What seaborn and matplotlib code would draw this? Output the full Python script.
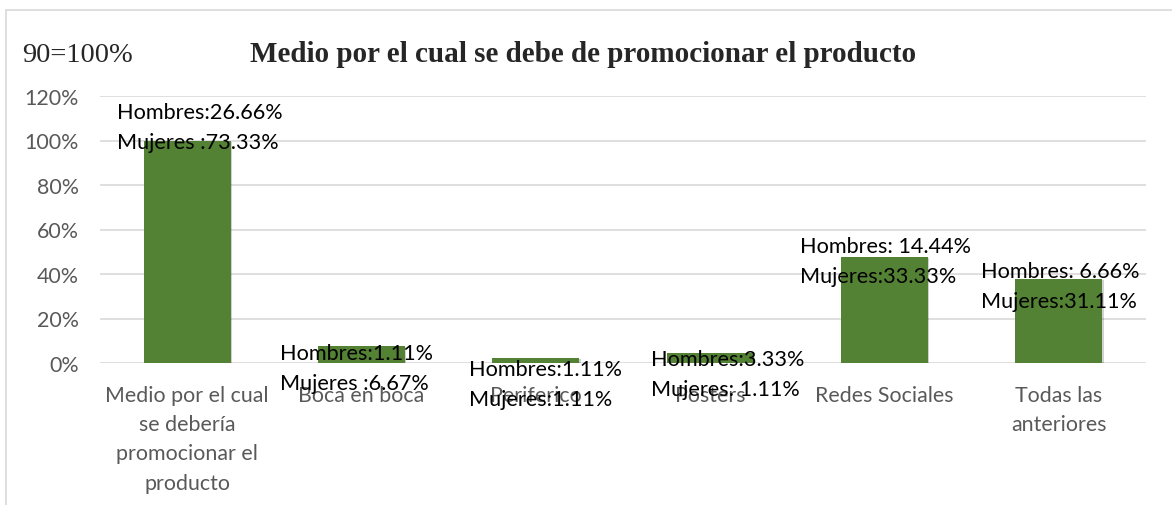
import matplotlib
matplotlib.use("Agg")
import matplotlib.pyplot as plt
import matplotlib.patheffects as pe
from matplotlib.lines import Line2D
import seaborn as sns
import pandas as pd

# Survey results (percent of 90 respondents)
categorias = [
    "Medio por el cual\nse debería\npromocionar el\nproducto",
    "Boca en boca",
    "Periferico",
    "Posters",
    "Redes Sociales",
    "Todas las\nanteriores",
]
hombres = [26.66, 1.11, 1.11, 3.33, 14.44, 6.66]
mujeres = [73.33, 6.67, 1.11, 1.11, 33.33, 31.11]
etiquetas = [
    "Hombres:26.66%\nMujeres :73.33%",
    "Hombres:1.11%\nMujeres :6.67%",
    "Hombres:1.11%\nMujeres:1.11%",
    "Hombres:3.33%\nMujeres: 1.11%",
    "Hombres: 14.44%\nMujeres:33.33%",
    "Hombres: 6.66%\nMujeres:31.11%",
]
y_ticks = [0, 20, 40, 60, 80, 100, 120]

# label placement (pixel offsets of the label block's top-left from the bar top)
label_offsets = [(-70, 39), (-81, 3), (-67, -1), (-59, 4), (-85, 21), (-78, 18)]

df = pd.DataFrame({
    "categoria": categorias,
    "total": [h + m for h, m in zip(hombres, mujeres)],
})

sns.set_theme(style="white")
plt.rcParams["font.family"] = ["Lato", "DejaVu Sans"]

fig = plt.figure(figsize=(11.72, 5.06), dpi=100)
ax = fig.add_axes([100 / 1172, 1 - 364 / 506, 1046 / 1172, 267 / 506])

green = "#548235"
sns.barplot(data=df, x="categoria", y="total", color=green, width=0.5,
            saturation=1, ax=ax, zorder=3)
for bar in ax.patches:
    bar.set_edgecolor("none")
    bar.set_path_effects([pe.SimplePatchShadow(offset=(1, -1), shadow_rgbFace="#000000",
                                               alpha=0.18), pe.Normal()])

ax.set_ylim(0, 120)
ax.set_xlim(-0.5, len(categorias) - 0.5)
ax.set_yticks(y_ticks)
ax.set_yticklabels([f"{t}%" for t in y_ticks])
ax.grid(axis="y", color="#d9d9d9", linewidth=1.2, zorder=0)
ax.grid(axis="x", visible=False)
for s in ax.spines.values():
    s.set_visible(False)
ax.set_xlabel("")
ax.set_ylabel("")
ax.tick_params(axis="y", length=0, pad=15, labelsize=15.4, labelcolor="#595959")
ax.tick_params(axis="x", length=0, pad=16, labelsize=15.4, labelcolor="#595959")
for lbl in ax.get_xticklabels():
    lbl.set_linespacing(1.57)

# data labels
for i, (txt, total, (dx, dy)) in enumerate(zip(etiquetas, df["total"], label_offsets)):
    ax.annotate(txt, xy=(i, total), xytext=(dx, dy), textcoords="offset pixels",
                ha="left", va="top", fontsize=15.6, color="black",
                linespacing=1.64, zorder=5, annotation_clip=False)

# titles
fig.text(583 / 1172, 1 - 55 / 506, "Medio por el cual se debe de promocionar el producto",
         ha="center", va="center", fontsize=21, fontweight="bold",
         family=["Liberation Serif", "DejaVu Serif"])
fig.text(22 / 1172, 1 - 55 / 506, "90=100%", ha="left", va="center", fontsize=20.5,
         family=["Liberation Serif", "DejaVu Serif"])

# chart frame
fig.add_artist(Line2D([6 / 1172, 1], [1 - 11 / 506, 1 - 11 / 506],
                      transform=fig.transFigure, color="#d9d9d9", linewidth=1.2))
fig.add_artist(Line2D([6 / 1172, 6 / 1172], [0, 1 - 11 / 506],
                      transform=fig.transFigure, color="#d9d9d9", linewidth=1.2))

fig.savefig("out.png", dpi=100)
